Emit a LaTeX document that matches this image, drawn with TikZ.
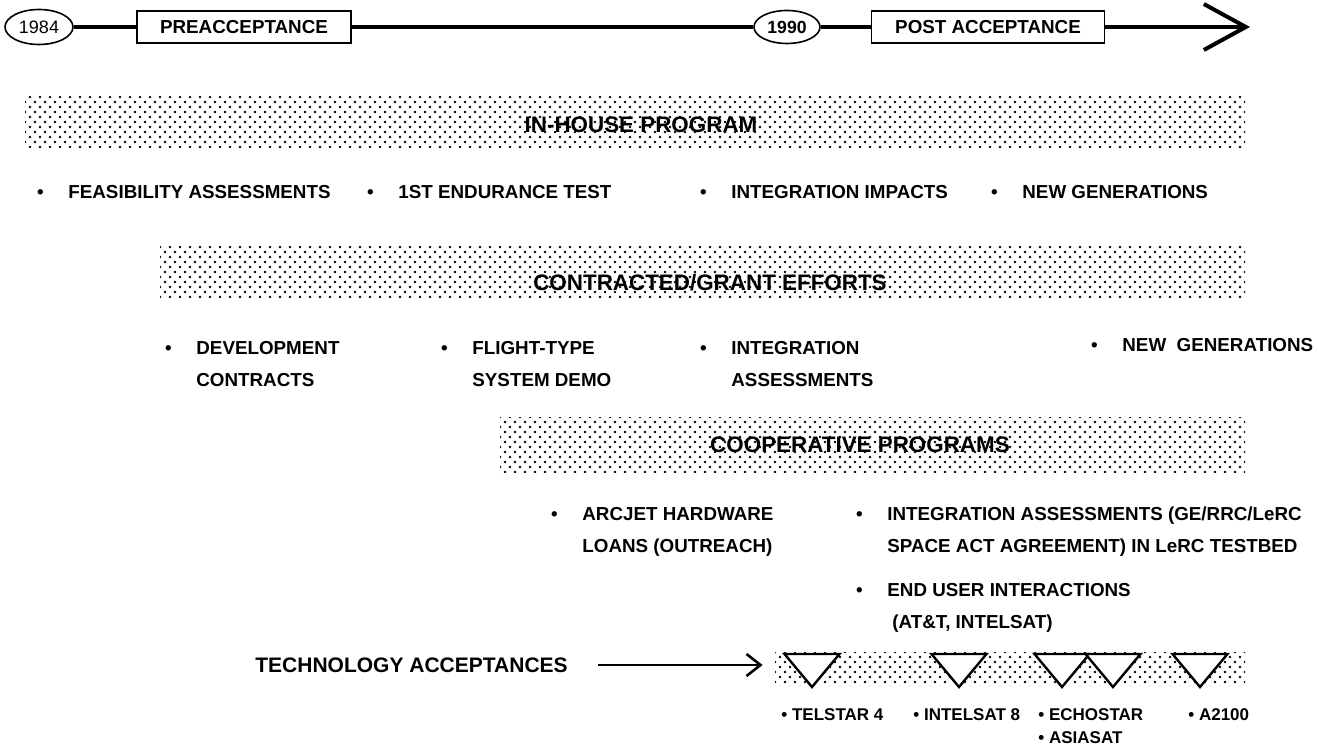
\documentclass[tikz,border=0pt]{standalone}
\usepackage{fontspec}
\setmainfont{Liberation Sans}
\usetikzlibrary{arrows.meta,positioning,shapes.geometric,patterns}

% staggered dot screen used for the program bands
\pgfdeclarepatternformonly{halftone}{\pgfqpoint{-1pt}{-1pt}}{\pgfqpoint{4pt}{4pt}}{\pgfqpoint{5pt}{5pt}}{%
  \pgfpathcircle{\pgfqpoint{0pt}{0pt}}{.72pt}%
  \pgfpathcircle{\pgfqpoint{2.5pt}{2.5pt}}{.72pt}%
  \pgfusepath{fill}}

\newcommand{\bul}{\llap{\textbullet\hspace{12.3pt}}}
\newcommand{\twoline}[2]{\begin{tabular}[t]{@{}l@{}}#1\\#2\end{tabular}}

\begin{document}
\begin{tikzpicture}[x=0.5pt,y=-0.5pt,>=Latex]
\tikzstyle{yr}=[draw,ellipse,line width=0.8pt,inner sep=0pt,minimum width=34pt,minimum height=17.5pt,font=\fontsize{9}{10}\selectfont]
\tikzstyle{phase}=[draw,rectangle,line width=0.8pt,inner sep=0pt,minimum height=16pt,font=\bfseries\fontsize{9.4}{11}\selectfont]
\tikzstyle{tl}=[line width=2pt]
\tikzstyle{band}=[pattern=halftone,inner sep=0pt]
\tikzstyle{bandtitle}=[inner sep=0pt,font=\bfseries\fontsize{11.2}{13}\selectfont]
\tikzstyle{item}=[anchor=base west,inner sep=0pt,font=\bfseries\fontsize{9.4}{16}\selectfont]
\tikzstyle{sat}=[anchor=base west,inner sep=0pt,font=\bfseries\fontsize{8.5}{11}\selectfont]
\tikzstyle{tri}=[draw,fill=white,line width=1.2pt,line join=miter]
\useasboundingbox (0,0) rectangle (1318,747);

% timeline
\node[yr] (y84) at (39,27) {1984};
\node[phase,minimum width=107pt] (pre) at (244,27) {PREACCEPTANCE};
\node[yr,font=\bfseries\fontsize{8.8}{10}\selectfont,minimum width=33pt,minimum height=16.5pt] (y90) at (787,27) {1990};
\node[phase,minimum width=116.5pt] (post) at (988,27) {POST ACCEPTANCE};
\coordinate (tlend) at (1250,27);
\draw[tl] (y84) -- (pre);
\draw[tl] (pre) -- (y90);
\draw[tl] (y90) -- (post);
\draw[tl,-{Straight Barb[length=21pt,width=23pt]}] (post) -- (tlend);

% in-house
\node[band,minimum width=610pt,minimum height=25.5pt] (inhouse) at (635,122.5) {};
\node[bandtitle] (inhouse-t) at (641,125) {IN-HOUSE PROGRAM};
\node[item] (feas) at (68,199) {\bul FEASIBILITY ASSESSMENTS};
\node[item] (endur) at (398,199) {\bul 1ST ENDURANCE TEST};
\node[item] (impact) at (731,199) {\bul INTEGRATION IMPACTS};
\node[item] (newgen) at (1022,199) {\bul NEW GENERATIONS};

% contracted / grant
\node[band,minimum width=542.5pt,minimum height=25.5pt] (contract) at (702.5,272.5) {};
\node[bandtitle] (contract-t) at (710,283) {CONTRACTED/GRANT EFFORTS};
\node[item] (devel) at (196,355) {\bul\twoline{DEVELOPMENT}{CONTRACTS}};
\node[item] (flight) at (472,355) {\bul\twoline{FLIGHT-TYPE}{SYSTEM DEMO}};
\node[item] (intass) at (731,355) {\bul\twoline{INTEGRATION}{ASSESSMENTS}};
\node[item] (newgen2) at (1122,352) {\bul NEW\ \ GENERATIONS};

% cooperative
\node[band,minimum width=372.5pt,minimum height=27.5pt] (coop) at (872.5,445.5) {};
\node[bandtitle] (coop-t) at (860,445) {COOPERATIVE PROGRAMS};
\node[item] (arcjet) at (582,521) {\bul\twoline{ARCJET HARDWARE}{LOANS (OUTREACH)}};
\node[item] (spaceact) at (887,521) {\bul\twoline{INTEGRATION ASSESSMENTS (GE/RRC/LeRC}{SPACE ACT AGREEMENT) IN LeRC TESTBED}};
\node[item] (enduser) at (887,597) {\bul\twoline{END USER INTERACTIONS}{\hspace{2.5pt}(AT\&T, INTELSAT)}};

% acceptances
\node[band,minimum width=235pt,minimum height=16.5pt] (accept) at (1010,669.5) {};
\foreach \tx in {812,959,1062,1113,1200}
  \draw[tri] (\tx-27.5,654) -- (\tx+27.5,654) -- (\tx,687) -- cycle;
\node[inner sep=0pt,anchor=west,font=\bfseries\fontsize{10.5}{12}\selectfont] (techacc) at (255,665) {TECHNOLOGY ACCEPTANCES};
\draw[line width=1.3pt,-{Straight Barb[length=7pt,width=11pt]},shorten <=15pt,shorten >=6pt] (techacc) -- (techacc -| accept.west);
\node[sat] (telstar) at (781,721) {\textbullet\ TELSTAR 4};
\node[sat] (intelsat) at (913,721) {\textbullet\ INTELSAT 8};
\node[sat] (echostar) at (1038,721) {\textbullet\ ECHOSTAR};
\node[sat] (asiasat) at (1038,744) {\textbullet\ ASIASAT};
\node[sat] (a2100) at (1188,721) {\textbullet\ A2100};
\end{tikzpicture}
\end{document}
